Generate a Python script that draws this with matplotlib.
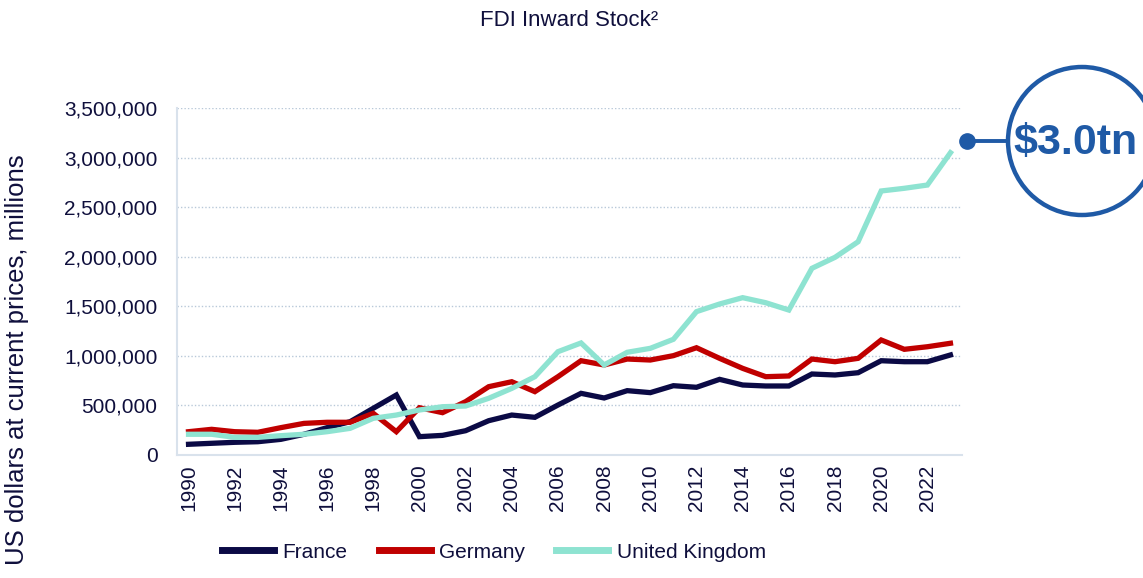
import matplotlib
matplotlib.use("Agg")
import matplotlib.pyplot as plt
import matplotlib.ticker as mtick
from matplotlib.patches import Circle

plt.rcParams["font.family"] = ["Liberation Sans", "DejaVu Sans"]

# data (US$ millions)
years = list(range(1990, 2024))
france = [108, 118, 128, 134, 158, 209, 276, 336, 471, 605, 185, 198, 245, 346, 403, 380, 504,
          622, 575, 649, 629, 699, 683, 763, 706, 696, 696, 817, 807, 830, 951, 941, 941, 1009]
germany = [235, 259, 235, 229, 276, 319, 330, 330, 420, 235, 477, 427, 538, 689, 739, 639, 790,
           951, 908, 968, 958, 1002, 1082, 975, 874, 790, 797, 968, 941, 975, 1160, 1066, 1092, 1127]
uk = [209, 209, 178, 178, 195, 209, 235, 269, 370, 403, 454, 487, 494, 572, 672, 790, 1042,
      1130, 908, 1036, 1076, 1167, 1446, 1523, 1587, 1536, 1462, 1883, 1994, 2151, 2663, 2690, 2723, 3049]
france = [v * 1000 for v in france]
germany = [v * 1000 for v in germany]
uk = [v * 1000 for v in uk]

txt = "#0f0f3c"
c_fr = "#0b0a45"
c_de = "#c00000"
c_uk = "#8ee3d1"
c_call = "#1f5aa6"

W, H = 1143, 578
fig = plt.figure(figsize=(W / 100, H / 100), dpi=100)
ax = fig.add_axes([177 / W, 1 - 455 / H, (962 - 177) / W, (455 - 108) / H])

ax.plot(years, france, color=c_fr, lw=3.8, label="France", solid_joinstyle="miter")
ax.plot(years, germany, color=c_de, lw=3.8, label="Germany", solid_joinstyle="miter")
ax.plot(years, uk, color=c_uk, lw=3.8, label="United Kingdom", solid_joinstyle="miter")

ax.set_xlim(1989.5, 2023.5)
ax.set_ylim(0, 3500000)
ax.set_xticks(range(1990, 2023, 2))
ax.set_yticks(range(0, 3500001, 500000))
ax.yaxis.set_major_formatter(mtick.FuncFormatter(lambda v, p: f"{int(v):,}"))
ax.tick_params(axis="x", length=0, pad=7, labelsize=15, labelcolor=txt, labelrotation=90)
ax.tick_params(axis="y", length=0, pad=14, labelsize=15, labelcolor=txt)

ax.grid(axis="y", color="#b9c9d9", lw=1, ls=(0, (1, 1.5)))
ax.set_axisbelow(True)
for s in ["top", "right"]:
    ax.spines[s].set_visible(False)
for s in ["left", "bottom"]:
    ax.spines[s].set_color("#d9e2ec")
    ax.spines[s].set_linewidth(1.5)

fig.text(569 / W, 1 - 21 / H, "FDI Inward Stock²", ha="center", va="center", fontsize=16, color=txt)
fig.text(17 / W, 1 - 360 / H, "US dollars at current prices, millions", rotation=90,
         ha="center", va="center", fontsize=18.5, color=txt)

leg = fig.legend(loc="center", bbox_to_anchor=(494 / W, 1 - 552 / H), ncol=3, frameon=False,
                 fontsize=15, handlelength=2.5, handletextpad=0.4, columnspacing=1.5)
for t in leg.get_texts():
    t.set_color(txt)
for h in leg.get_lines():
    h.set_linewidth(5)

# callout in pixel space
ov = fig.add_axes([0, 0, 1, 1], facecolor="none")
ov.set_xlim(0, W)
ov.set_ylim(H, 0)
ov.axis("off")
ov.add_patch(Circle((1082, 141), 74, fill=False, ec=c_call, lw=3.2, clip_on=False))
ov.plot([967, 1008], [141, 141], color=c_call, lw=2.8)
ov.plot([967], [141], "o", color=c_call, ms=11)
ov.text(1076, 143, "$3.0tn", ha="center", va="center", fontsize=31, fontweight="bold", color=c_call)

fig.savefig("out.png", dpi=100)
